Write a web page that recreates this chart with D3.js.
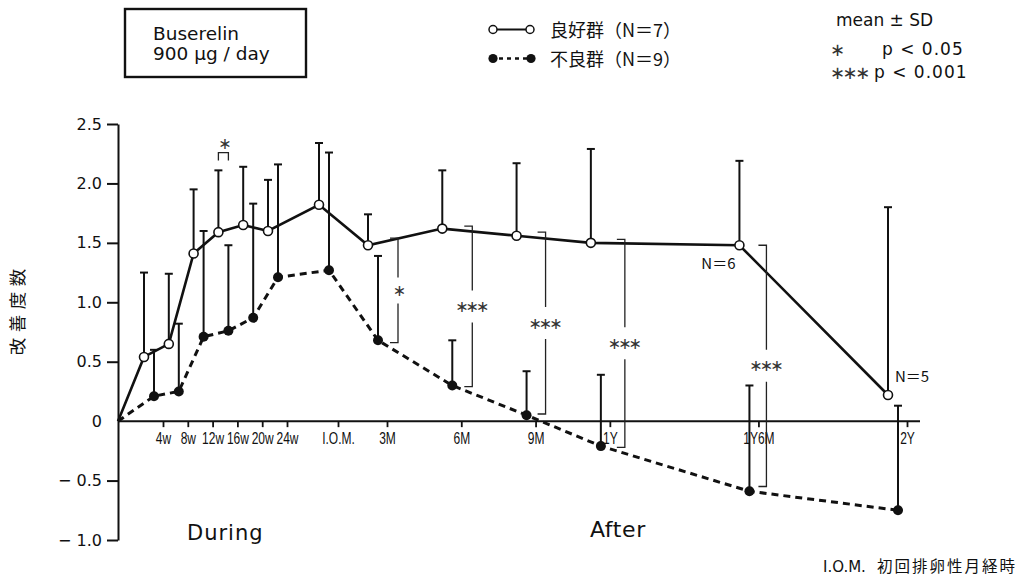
<!DOCTYPE html>
<html><head><meta charset="utf-8">
<script src="https://cdn.jsdelivr.net/npm/d3@7"></script>
<style>
body{margin:0;background:#fff;}
svg{display:block;}
</style></head><body>
<svg id="c" width="1026" height="580"></svg>
<script>
// ---- data ----
const xLabels = ["4w","8w","12w","16w","20w","24w","I.O.M.","3M","6M","9M","1Y","1Y6M","2Y"];
const xUnits  = [1,2,3,4,5,6,8,11,14,17,20,26,32];   // axis units (I.O.M. = 8, after-phase = 8 + months)
const goodMean = [0.54,0.65,1.41,1.59,1.65,1.60,1.82,1.48,1.62,1.56,1.50,1.48,0.22];
const goodSD   = [0.71,0.59,0.54,0.52,0.49,0.43,0.52,0.26,0.49,0.61,0.79,0.71,1.58];
const badMean  = [0.21,0.25,0.71,0.76,0.87,1.21,1.27,0.68,0.30,0.05,-0.21,-0.59,-0.75];
const badSD    = [0.39,0.57,0.89,0.72,0.96,0.95,0.99,0.71,0.38,0.37,0.60,0.89,0.88];
const yTicks = [-1.0,-0.5,0,0.5,1.0,1.5,2.0,2.5];
const yTickLabels = ["− 1.0","− 0.5","0","0.5","1.0","1.5","2.0","2.5"];
const sigAt     = ["3M","6M","9M","1Y","1Y6M"];
const sigMark   = ["∗","∗∗∗","∗∗∗","∗∗∗","∗∗∗"];
const sigTop    = [1.54,1.64,1.59,1.53,1.48];
const sigBottom = [0.66,0.29,0.06,-0.22,-0.55];
const earlySigAt = "16w", earlySigMark = "∗", earlySigLevel = 2.26;
const nNotes = [{at:"1Y6M", text:"N＝6"},{at:"2Y", text:"N＝5"}];
const yTitle = "改善度数";

// ---- layout ----
const LAT = "'DejaVu Sans', sans-serif";
const CJK = "'Noto Sans CJK JP', sans-serif";
const goodDx = -19, badDx = -9;
const bracketDx = [11,11,10,15,8];
const svg = d3.select("#c");

const x = d3.scaleLinear().domain([0,1,6,8,11,32]).range([118,163,287,338,387,907]);
const y = d3.scaleLinear().domain([-1,2.5]).range([540,124]);
const xi = l => xUnits[xLabels.indexOf(l)];

// y axis
const ya = svg.append("g").attr("transform","translate(118,0)")
  .call(d3.axisLeft(y).tickValues(yTicks).tickSize(11).tickSizeOuter(0).tickPadding(4)
    .tickFormat((d,i)=>yTickLabels[i]));
ya.select(".domain").attr("stroke","#111").attr("stroke-width",2);
ya.selectAll(".tick line").attr("stroke","#111").attr("stroke-width",2)
  .attr("display",d=>d===0?"none":null);
ya.selectAll(".tick text").attr("font-family",LAT).attr("font-size",16).attr("fill","#111")
  .attr("dx",-1);

// x axis
svg.append("line").attr("x1",118).attr("x2",920).attr("y1",y(0)).attr("y2",y(0))
  .attr("stroke","#111").attr("stroke-width",2);
const xa = svg.append("g").attr("transform",`translate(0,${y(0)})`)
  .call(d3.axisBottom(x).tickValues(xUnits).tickSize(6).tickSizeOuter(0)
    .tickFormat((d,i)=>xLabels[i]));
xa.select(".domain").remove();
xa.selectAll(".tick line").attr("stroke","#111").attr("stroke-width",1.8);
xa.selectAll(".tick text").attr("font-family","'Liberation Sans', Arial, sans-serif")
  .attr("font-size",16).attr("fill","#111").attr("y",23).attr("dy",0)
  .attr("transform","scale(0.75,1)");

// series
function pts(means, dx){
  return [[x(0),y(0)]].concat(means.map((m,i)=>[x(xUnits[i])+dx, y(m)]));
}
svg.append("path").attr("d",d3.line()(pts(badMean,badDx))).attr("fill","none")
  .attr("stroke","#111").attr("stroke-width",3).attr("stroke-dasharray","7,5");
svg.append("path").attr("d",d3.line()(pts(goodMean,goodDx))).attr("fill","none")
  .attr("stroke","#111").attr("stroke-width",2.6);

function errBars(means, sds, dx){
  const g = svg.append("g").attr("stroke","#111").attr("stroke-width",2);
  means.forEach((m,i)=>{
    const cx = x(xUnits[i])+dx, top = y(m+sds[i]);
    g.append("line").attr("x1",cx).attr("x2",cx).attr("y1",y(m)).attr("y2",top);
    g.append("line").attr("x1",cx-4).attr("x2",cx+4).attr("y1",top).attr("y2",top);
  });
}
errBars(goodMean,goodSD,goodDx);
errBars(badMean,badSD,badDx);

svg.append("g").selectAll("circle").data(badMean).join("circle")
  .attr("cx",(d,i)=>x(xUnits[i])+badDx).attr("cy",d=>y(d)).attr("r",5).attr("fill","#111");
svg.append("g").selectAll("circle").data(goodMean).join("circle")
  .attr("cx",(d,i)=>x(xUnits[i])+goodDx).attr("cy",d=>y(d)).attr("r",4.5)
  .attr("fill","#fff").attr("stroke","#111").attr("stroke-width",1.6);

// significance brackets
function star(g, cx, cy, s){
  g.append("text").attr("x",cx).attr("y",cy).attr("text-anchor","middle")
    .attr("dominant-baseline","central").attr("font-family",LAT).attr("font-size",16)
    .attr("letter-spacing",-3).attr("dx", s.length>1 ? -1.5 : 0)
    .attr("fill","#333").text(s);
}
sigAt.forEach((l,i)=>{
  const bx = x(xi(l)) + bracketDx[i];
  const t = y(sigTop[i]), b = y(sigBottom[i]);
  const mid = (t+b)/2, gap = sigMark[i].length>1 ? 16 : 13;
  svg.append("path").attr("d",`M${bx-8},${t}H${bx}V${mid-gap}M${bx},${mid+gap}V${b}H${bx-8}`)
    .attr("fill","none").attr("stroke","#222").attr("stroke-width",1.3);
  star(svg, bx, mid, sigMark[i]);
});
{
  const x1 = x(xi(earlySigAt))+goodDx, x2 = x(xi(earlySigAt))+badDx, lv = y(earlySigLevel);
  svg.append("path").attr("d",`M${x1},${lv+8}V${lv}H${x2}V${lv+8}`)
    .attr("fill","none").attr("stroke","#222").attr("stroke-width",1.3);
  star(svg, (x1+x2)/2, lv-9, earlySigMark);
}

// N notes
const nOff = {"1Y6M":[-21,24], "2Y":[24,-13]};
nNotes.forEach(n=>{
  const i = xLabels.indexOf(n.at);
  svg.append("text").attr("x",x(xUnits[i])+goodDx+nOff[n.at][0]).attr("y",y(goodMean[i])+nOff[n.at][1])
    .attr("text-anchor","middle").attr("font-family",CJK).attr("font-size",15).attr("fill","#111")
    .text(n.text);
});

// y title (one glyph per step, read bottom to top)
Array.from(yTitle).forEach((ch,i)=>{
  svg.append("text").attr("transform",`translate(24,${312 + (1.5 - i)*23}) rotate(-90)`)
    .attr("text-anchor","middle").attr("font-family",CJK).attr("font-size",17.5)
    .attr("fill","#111").text(ch);
});

// phase labels
svg.append("text").attr("x",187).attr("y",540).attr("font-family",LAT).attr("font-size",21)
  .attr("letter-spacing",1).attr("fill","#111").text("During");
svg.append("text").attr("x",590).attr("y",537).attr("font-family",LAT).attr("font-size",22)
  .attr("letter-spacing",0.6).attr("fill","#111").text("After");

// footnote
svg.append("text").attr("x",823).attr("y",572).attr("font-family",LAT).attr("font-size",15)
  .attr("fill","#111").text("I.O.M.");
svg.append("text").attr("x",877).attr("y",572).attr("font-family",CJK).attr("font-size",15.5)
  .attr("letter-spacing",2).attr("fill","#111").text("初回排卵性月経時");

// drug box
svg.append("rect").attr("x",125).attr("y",9).attr("width",181).attr("height",68)
  .attr("fill","none").attr("stroke","#111").attr("stroke-width",2.4);
svg.append("text").attr("x",153).attr("y",40).attr("font-family",LAT).attr("font-size",18.5)
  .attr("fill","#111").text("Buserelin");
svg.append("text").attr("x",153).attr("y",60).attr("font-family",LAT).attr("font-size",18.5)
  .attr("fill","#111").text("900 µg / day");

// legend
const lg = svg.append("g");
lg.append("line").attr("x1",493).attr("x2",530).attr("y1",29.5).attr("y2",29.5)
  .attr("stroke","#111").attr("stroke-width",2);
[493,530].forEach(cx=>lg.append("circle").attr("cx",cx).attr("cy",29.5).attr("r",4)
  .attr("fill","#fff").attr("stroke","#111").attr("stroke-width",1.5));
lg.append("line").attr("x1",497).attr("x2",528).attr("y1",58.5).attr("y2",58.5)
  .attr("stroke","#111").attr("stroke-width",2.6).attr("stroke-dasharray","4,4").attr("stroke-dashoffset",-2);
[493,531].forEach(cx=>lg.append("circle").attr("cx",cx).attr("cy",58.5).attr("r",4.6).attr("fill","#111"));
lg.append("text").attr("x",550).attr("y",37).attr("font-family",CJK).attr("font-size",18)
  .attr("fill","#111").text("良好群（N＝7）");
lg.append("text").attr("x",550).attr("y",66).attr("font-family",CJK).attr("font-size",18)
  .attr("fill","#111").text("不良群（N＝9）");

// stats note
const sn = svg.append("g").attr("font-family",LAT).attr("fill","#111");
sn.append("text").attr("x",836).attr("y",26).attr("font-size",17).text("mean ± SD");
sn.append("text").attr("x",830).attr("y",49).attr("font-size",18).attr("letter-spacing",-2.5)
  .attr("fill","#333").attr("dominant-baseline","central").text("∗");
sn.append("text").attr("x",882).attr("y",55).attr("font-size",17).attr("letter-spacing",1).text("p < 0.05");
sn.append("text").attr("x",830).attr("y",72).attr("font-size",18).attr("letter-spacing",-2.5)
  .attr("fill","#333").attr("dominant-baseline","central").text("∗∗∗");
sn.append("text").attr("x",874).attr("y",78).attr("font-size",17).attr("letter-spacing",1).text("p < 0.001");
</script>
</body></html>
